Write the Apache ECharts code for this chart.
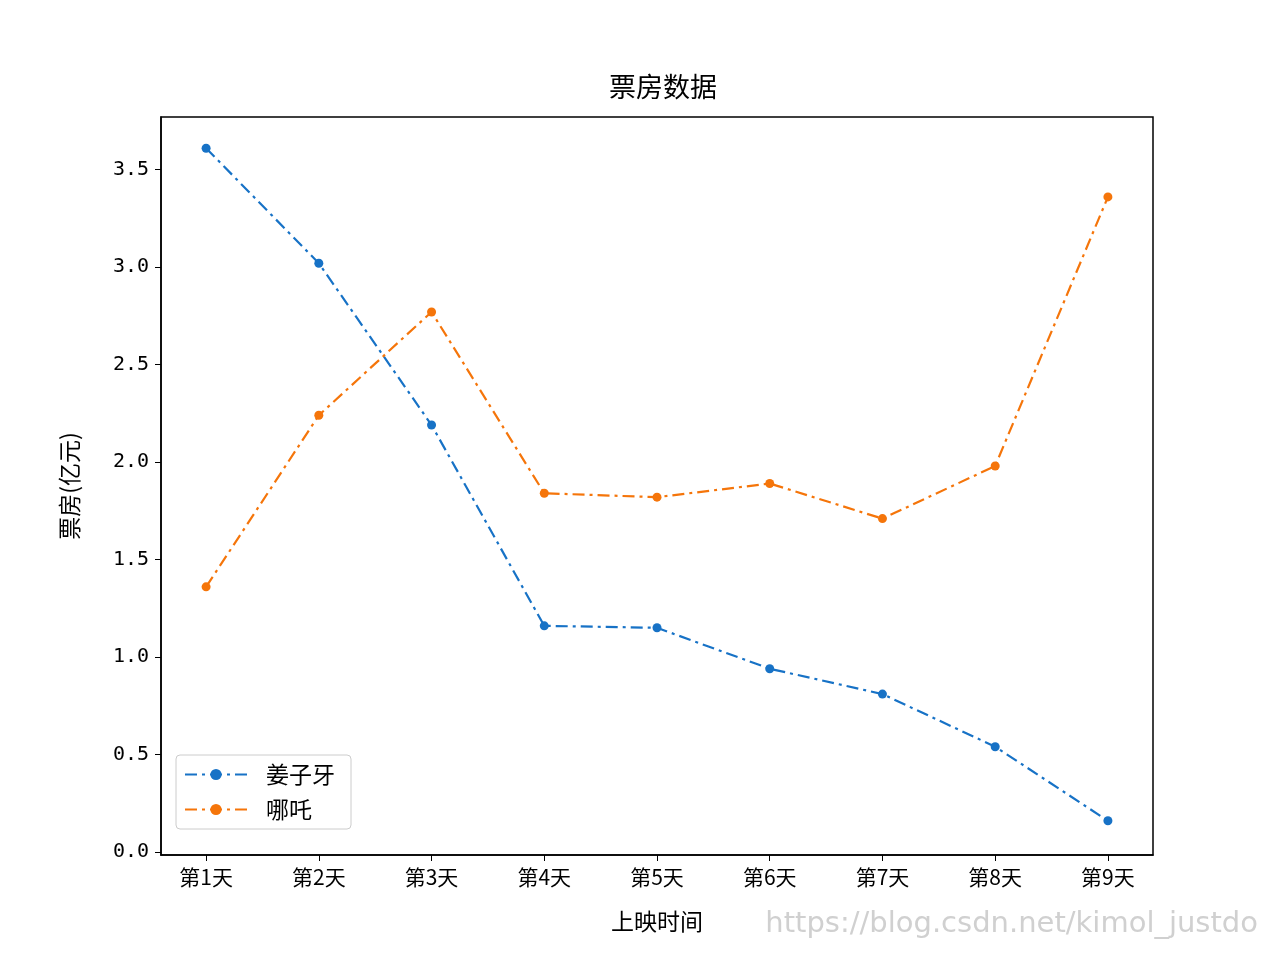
<!DOCTYPE html>
<html><head><meta charset="utf-8">
<script src="https://cdn.jsdelivr.net/npm/echarts@6/dist/echarts.min.js"></script>
<style>html,body{margin:0;background:#fff}#c{width:1280px;height:960px}</style>
</head><body><div id="c"></div>
<script>
const categories = ['第1天','第2天','第3天','第4天','第5天','第6天','第7天','第8天','第9天'];
const jiangziya = [3.61,3.02,2.19,1.16,1.15,0.94,0.81,0.54,0.16];
const nezha = [1.36,2.24,2.77,1.84,1.82,1.89,1.71,1.98,3.36];
const yTicks = [0,0.5,1.0,1.5,2.0,2.5,3.0,3.5];
const font = '"Noto Sans CJK SC", sans-serif';
const chart = echarts.init(document.getElementById('c'));
const dash = [12,5,3,5];
function ser(name, vals, color){
  return {name, type:'line', data: vals.map((v,i)=>[i,v]), symbol:'circle', symbolSize:9,
    itemStyle:{color}, lineStyle:{color, width:2.2, type:dash}, animation:false};
}
chart.setOption({
  animation:false,
  title:{text:'票房数据', left:604, top:68, textStyle:{fontFamily:font, fontSize:27, fontWeight:'normal', color:'#000'}},
  grid:{left:161, right:127, top:117, bottom:105, show:true, borderColor:'#000', borderWidth:1.5},
  legend:{orient:'vertical', left:176, top:755, padding:[8,16,8,8], itemGap:12, itemWidth:62, itemHeight:14,
    borderColor:'#ccc', borderWidth:1, borderRadius:4, backgroundColor:'#fff',
    textStyle:{fontFamily:font, fontSize:23, color:'#000', padding:[0,0,0,14]}, data:['姜子牙','哪吒']},
  xAxis:{type:'value', min:-0.4, max:8.4, name:'上映时间', nameLocation:'middle', nameGap:55,
    nameTextStyle:{fontFamily:font, fontSize:23, color:'#000'},
    splitLine:{show:false}, axisLine:{onZero:false, lineStyle:{color:'#000', width:1.5}},
    axisTick:{customValues:categories.map((c,i)=>i), length:6, lineStyle:{color:'#000'}},
    axisLabel:{customValues:categories.map((c,i)=>i), formatter:v=>categories[Math.round(v)], fontFamily:font, fontSize:21, color:'#000', margin:12}},
  yAxis:{type:'value', min:-0.0154, max:3.77, name:'票房(亿元)', nameLocation:'middle', nameGap:80,
    nameTextStyle:{fontFamily:font, fontSize:23, color:'#000'},
    splitLine:{show:false}, axisLine:{show:true, onZero:false, lineStyle:{color:'#000', width:1.5}},
    axisTick:{show:true, customValues:yTicks, length:6, lineStyle:{color:'#000'}},
    axisLabel:{customValues:yTicks, formatter:v=>v.toFixed(1), fontFamily:'"DejaVu Sans Mono", monospace', fontSize:20, color:'#000', margin:12}},
  graphic:[{type:'text', right:22, top:910, style:{text:'https://blog.csdn.net/kimol_justdo', fontFamily:'"DejaVu Sans", sans-serif', fontSize:29, fill:'#d0d0d0'}}],
  series:[ser('姜子牙', jiangziya, '#1772c6'), ser('哪吒', nezha, '#f5750a')]
});
</script></body></html>
